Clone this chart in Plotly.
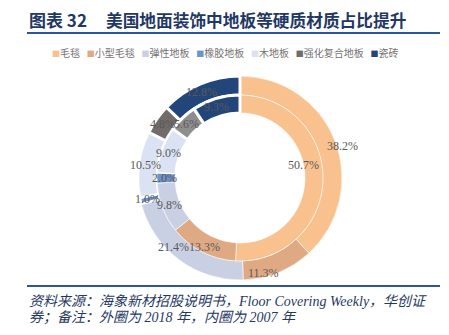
import math
import plotly.graph_objects as go

categories = ["毛毯", "小型毛毯", "弹性地板", "橡胶地板", "木地板", "强化复合地板", "瓷砖"]
outer_2018 = [38.2, 11.3, 21.4, 1.0, 10.5, 4.8, 12.8]
inner_2007 = [50.7, 13.3, 9.8, 2.0, 9.0, 5.6, 9.3]

outer_colors = ["#F8C18E", "#DFA983", "#C9D0E3", "#6C93CB", "#DAE2F3", "#716B69", "#22457A"]
inner_colors = ["#F8C18E", "#DFA983", "#C9D0E3", "#6C93CB", "#DAE2F3", "#8F8E8E", "#22457A"]
outer_line = [0.6, 0.6, 0.6, 2.5, 2.5, 3, 3]
inner_line = [0.6, 0.6, 0.6, 0.6, 1.5, 3, 3]

# hand-placed label nudges (pixels, dx right, dy down) like the reference
outer_nudge = [(18, 2), (-10, 9), (-9, -6), (0, 0), (0, 0), (0, 0), (0, 0)]
inner_nudge = [(-8, -15), (0, 3), (0, 0), (0, 0), (0, 0), (0, 0), (0, 0)]

title_num = "图表 32"
title_main = "美国地面装饰中地板等硬质材质占比提升"
source_line1 = "资料来源：海象新材招股说明书，Floor Covering Weekly，华创证"
source_line2 = "券；备注：外圈为 2018 年，内圈为 2007 年"

W, H = 449, 335
cx, cy = 240, 178
r_out, r_mid, r_in = 102, 83, 65


def dom(r):
    return dict(x=[(cx - r) / W, (cx + r) / W],
                y=[(H - cy - r) / H, (H - cy + r) / H])


fig = go.Figure()
fig.add_trace(go.Pie(
    labels=categories, values=outer_2018, textinfo="none",
    hole=r_mid / r_out, domain=dom(r_out), sort=False, direction="clockwise",
    marker=dict(colors=outer_colors, line=dict(color="white", width=outer_line)),
    showlegend=False, name="2018",
))
fig.add_trace(go.Pie(
    labels=categories, values=inner_2007, textinfo="none",
    hole=r_in / r_mid, domain=dom(r_mid), sort=False, direction="clockwise",
    marker=dict(colors=inner_colors, line=dict(color="white", width=inner_line)),
    showlegend=False, name="2007",
))

label_font = dict(family="Liberation Serif, Times New Roman, serif", size=12, color="#595959")
annotations = []


def ring_labels(values, radius, nudges):
    total = sum(values)
    cum = 0.0
    lx = cx - 2
    for v, (dx, dy) in zip(values, nudges):
        th = 2 * math.pi * (cum + v / 2) / total
        cum += v
        px = lx + radius * math.sin(th) + dx
        py = cy - radius * math.cos(th) + dy
        annotations.append(dict(
            text=f"{v:.1f}%", x=px / W, y=1 - py / H, xref="paper", yref="paper",
            xanchor="center", yanchor="middle", showarrow=False, font=label_font))


ring_labels(outer_2018, 93, outer_nudge)
ring_labels(inner_2007, 74, inner_nudge)

# legend built as one text line
legend_parts = []
for cat, col in zip(categories, outer_colors):
    legend_parts.append(
        f"<span style='color:{col};font-size:8px'>■</span>"
        f"<span style='color:#767171'>{cat}</span>")
legend_text = "&nbsp;&nbsp;&nbsp;".join(legend_parts)

navy = "#1F3864"
annotations += [
    dict(text=f"<b>{title_num}</b>", x=27 / W, y=1 - 20 / H, xref="paper", yref="paper",
         xanchor="left", yanchor="middle", showarrow=False,
         font=dict(family="Noto Sans CJK SC, Liberation Serif", size=17, color=navy)),
    dict(text=f"<b>{title_main}</b>", x=104 / W, y=1 - 20 / H, xref="paper", yref="paper",
         xanchor="left", yanchor="middle", showarrow=False,
         font=dict(family="Noto Sans CJK SC", size=16.7, color=navy)),
    dict(text=legend_text, x=50 / W, y=1 - 53 / H, xref="paper", yref="paper",
         xanchor="left", yanchor="middle", showarrow=False,
         font=dict(family="Noto Sans CJK SC", size=10, color="#767171")),
    dict(text=f"<i>{source_line1}</i>", x=27 / W, y=1 - 301 / H, xref="paper", yref="paper",
         xanchor="left", yanchor="middle", showarrow=False,
         font=dict(family="Liberation Serif, Noto Sans CJK SC", size=14, color=navy)),
    dict(text=f"<i>{source_line2}</i>", x=27 / W, y=1 - 317 / H, xref="paper", yref="paper",
         xanchor="left", yanchor="middle", showarrow=False,
         font=dict(family="Liberation Serif, Noto Sans CJK SC", size=14, color=navy)),
]

shapes = [
    dict(type="line", xref="paper", yref="paper", x0=27 / W, x1=440 / W,
         y0=1 - 33 / H, y1=1 - 33 / H, line=dict(color="#2E5597", width=2)),
    dict(type="line", xref="paper", yref="paper", x0=27 / W, x1=440 / W,
         y0=1 - 286 / H, y1=1 - 286 / H, line=dict(color="#2E5597", width=2)),
]

fig.update_layout(
    width=W, height=H, margin=dict(l=0, r=0, t=0, b=0),
    paper_bgcolor="white", plot_bgcolor="white",
    annotations=annotations, shapes=shapes,
    showlegend=False,
)

fig.write_html("out.html")
